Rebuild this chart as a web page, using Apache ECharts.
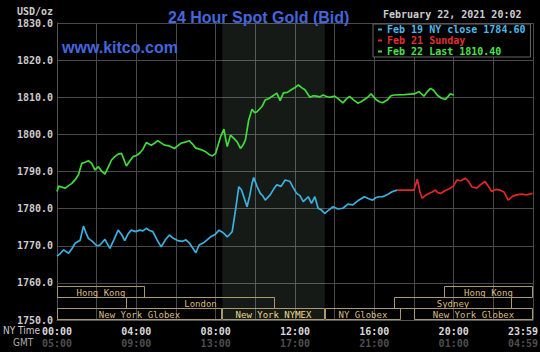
<!DOCTYPE html>
<html>
<head>
<meta charset="utf-8">
<script src="https://cdn.jsdelivr.net/npm/echarts@6/dist/echarts.min.js"></script>
<style>
  html, body { margin: 0; padding: 0; background: #000; }
  #chart { width: 540px; height: 352px; }
</style>
</head>
<body>
<div id="chart"></div>
<script>
// times are minutes after 00:00 NY time
const closeTimes = [0, 10, 20, 35, 45, 55, 70, 80, 88, 95, 108, 120, 130, 145, 160, 172, 185, 195, 205, 215, 225, 238, 250, 260, 270, 280, 290, 303, 315, 328, 340, 352, 365, 380, 390, 400, 420, 430, 445, 465, 478, 490, 503, 515, 523, 530, 540, 550, 558, 565, 575, 583, 590, 595, 605, 615, 622, 630, 645, 655, 665, 678, 690, 705, 715, 725, 735, 745, 760, 770, 780, 790, 800, 810, 822, 835, 850, 865, 880, 895, 910, 930, 945, 955, 965, 975, 985, 1000, 1015, 1030];
const closeValues = [1767.2, 1767.9, 1768.9, 1768.0, 1769.2, 1770.7, 1771.5, 1775.3, 1773.4, 1772.0, 1771.1, 1770.0, 1770.2, 1771.7, 1769.3, 1771.6, 1774.2, 1773.1, 1771.4, 1773.2, 1774.2, 1773.8, 1774.2, 1774.0, 1774.7, 1774.1, 1773.8, 1771.5, 1769.7, 1771.6, 1772.9, 1772.0, 1771.4, 1771.2, 1771.6, 1770.8, 1768.1, 1770.2, 1770.9, 1772.4, 1773.0, 1774.2, 1773.5, 1772.4, 1773.1, 1773.8, 1779.6, 1785.9, 1785.1, 1783.2, 1780.5, 1783.5, 1786.8, 1788.4, 1786.0, 1784.1, 1783.5, 1782.3, 1783.7, 1785.2, 1786.4, 1786.0, 1787.7, 1787.3, 1785.6, 1784.1, 1783.5, 1781.9, 1783.2, 1781.4, 1783.2, 1780.1, 1779.6, 1778.7, 1779.6, 1780.5, 1779.9, 1780.1, 1781.2, 1781.0, 1782.1, 1783.2, 1782.6, 1782.3, 1783.0, 1783.2, 1783.2, 1783.8, 1784.6, 1785.0];

const sundayTimes = [1030, 1080, 1090, 1098, 1105, 1115, 1125, 1135, 1145, 1152, 1160, 1175, 1190, 1200, 1210, 1222, 1235, 1245, 1255, 1270, 1282, 1295, 1305, 1315, 1328, 1340, 1352, 1365, 1378, 1390, 1405, 1420, 1430, 1439];
const sundayValues = [1785.0, 1785.0, 1787.9, 1784.5, 1782.8, 1783.6, 1784.1, 1784.5, 1785.0, 1784.3, 1784.1, 1784.9, 1785.5, 1786.2, 1787.7, 1787.5, 1788.2, 1787.3, 1785.9, 1785.5, 1786.5, 1787.3, 1786.0, 1784.6, 1785.2, 1785.0, 1784.5, 1782.3, 1783.3, 1783.7, 1783.9, 1783.7, 1783.9, 1784.1];

const lastTimes = [0, 5, 15, 25, 35, 45, 55, 65, 75, 85, 95, 105, 115, 125, 135, 145, 155, 165, 175, 185, 195, 210, 220, 230, 240, 250, 260, 270, 285, 295, 305, 315, 325, 340, 355, 365, 375, 388, 400, 410, 420, 435, 450, 460, 470, 480, 495, 505, 510, 515, 525, 535, 545, 555, 562, 570, 580, 590, 598, 605, 620, 630, 640, 650, 665, 675, 685, 697, 710, 720, 730, 740, 750, 765, 775, 785, 795, 805, 815, 825, 840, 852, 865, 875, 885, 897, 910, 920, 930, 940, 950, 965, 975, 985, 1000, 1010, 1020, 1050, 1080, 1095, 1110, 1120, 1130, 1140, 1150, 1162, 1175, 1190, 1200];
const lastValues = [1784.6, 1786.1, 1785.8, 1785.5, 1786.2, 1786.8, 1787.8, 1789.1, 1792.2, 1792.5, 1792.9, 1792.2, 1790.4, 1791.3, 1790.1, 1789.3, 1791.2, 1793.1, 1794.0, 1794.7, 1794.9, 1791.5, 1792.8, 1794.0, 1794.3, 1794.9, 1796.0, 1797.8, 1797.1, 1797.6, 1798.3, 1797.7, 1797.1, 1796.9, 1796.2, 1796.9, 1797.6, 1797.9, 1798.3, 1797.4, 1796.3, 1795.9, 1795.3, 1794.6, 1794.2, 1794.9, 1799.4, 1801.4, 1798.9, 1796.7, 1799.8, 1798.9, 1798.0, 1796.2, 1797.0, 1798.5, 1803.9, 1806.8, 1805.8, 1806.1, 1807.5, 1809.3, 1809.6, 1810.2, 1811.1, 1809.1, 1811.2, 1811.3, 1812.1, 1812.6, 1813.3, 1812.6, 1812.0, 1810.0, 1810.4, 1810.3, 1810.1, 1810.6, 1810.2, 1810.0, 1810.3, 1809.5, 1808.5, 1809.5, 1810.2, 1809.3, 1808.4, 1808.8, 1809.4, 1810.0, 1810.9, 1809.4, 1808.8, 1808.5, 1809.3, 1810.4, 1810.6, 1810.7, 1810.9, 1811.5, 1810.3, 1811.5, 1812.4, 1811.8, 1810.6, 1809.8, 1809.4, 1810.9, 1810.6];

const seriesNames = ['Feb 19 NY close 1784.60', 'Feb 21 Sunday', 'Feb 22 Last 1810.40'];

// trading sessions: row, start, end (minutes), name
const sessionRows = [0, 0, 1, 1, 2, 2, 2, 2];
const sessionStarts = [0, 1170, 210, 1020, 0, 500, 810, 1080];
const sessionEnds = [265, 1440, 660, 1375, 500, 810, 1040, 1440];
const sessionNames = ['Hong Kong', 'Hong Kong', 'London', 'Sydney', 'New York Globex', 'New York NYMEX', 'NY Globex', 'New York Globex'];

const yTicks = [1750, 1830, 10];
const nyLabels = ['00:00', '04:00', '08:00', '12:00', '16:00', '20:00', '23:59'];
const gmtLabels = ['05:00', '09:00', '13:00', '17:00', '21:00', '01:00', '04:59'];

const zip = (a, b) => a.map((t, i) => [t, b[i]]);
const mono = '"DejaVu Sans Mono", "Liberation Mono", monospace';
const nymex = sessionNames.indexOf('New York NYMEX');

const chart = echarts.init(document.getElementById('chart'), null, { renderer: 'svg' });

const option = {
  animation: false,
  backgroundColor: '#000',
  title: [
    {
      text: '24 Hour Spot Gold (Bid)', left: 163, top: 4,
      textStyle: { color: '#4466dd', fontSize: 16, fontWeight: 'bold', fontFamily: '"Liberation Sans", Arial, sans-serif' }
    },
    {
      text: 'www.kitco.com', left: 57, top: 34,
      textStyle: { color: '#4466dd', fontSize: 16, fontWeight: 'bold', fontFamily: '"Liberation Sans", Arial, sans-serif' }
    },
    {
      text: 'February 22, 2021 20:02', left: 383, top: 8, padding: 0,
      textStyle: { color: '#cccccc', fontSize: 10, fontWeight: 'bold', fontFamily: mono, lineHeight: 12 }
    }
  ],
  legend: {
    left: 373, top: 24,
    orient: 'vertical',
    selectedMode: false,
    icon: 'rect', itemWidth: 4, itemHeight: 2, itemGap: 0,
    padding: [0, 5, 0, 5],
    borderColor: '#666', borderWidth: 1, backgroundColor: '#000',
    textStyle: { fontFamily: mono, fontSize: 10, fontWeight: 'bold', lineHeight: 11 },
    data: [
      { name: seriesNames[0], textStyle: { color: '#4cb8e8' } },
      { name: seriesNames[1], textStyle: { color: '#e03030' } },
      { name: seriesNames[2], textStyle: { color: '#4ce04c' } }
    ]
  },
  grid: { left: 57, right: 7, top: 23, bottom: 32, outerBoundsMode: 'none', containLabel: false },
  xAxis: {
    type: 'value', min: 0, max: 1440, interval: 120,
    axisLine: { show: true, lineStyle: { color: '#555' } },
    axisTick: { show: false },
    splitLine: { show: true, lineStyle: { color: '#4a4a4a' } },
    axisLabel: {
      margin: 5,
      formatter: v => {
        if (v % 240 !== 0) return '';
        const i = v / 240;
        if (v === 1440) return '{nyEnd|' + nyLabels[i] + '}\n{gmtEnd|' + gmtLabels[i] + '}';
        return '{ny|' + nyLabels[i] + '}\n{gmt|' + gmtLabels[i] + '}';
      },
      rich: {
        ny: { color: '#d8d8d8', fontFamily: mono, fontSize: 10, fontWeight: 'bold', lineHeight: 12 },
        gmt: { color: '#4e4e4e', fontFamily: mono, fontSize: 10, fontWeight: 'bold', lineHeight: 12 },
        nyEnd: { color: '#d8d8d8', fontFamily: mono, fontSize: 10, fontWeight: 'bold', lineHeight: 12, padding: [0, 20, 0, 0] },
        gmtEnd: { color: '#4e4e4e', fontFamily: mono, fontSize: 10, fontWeight: 'bold', lineHeight: 12, padding: [0, 20, 0, 0] }
      }
    }
  },
  yAxis: {
    type: 'value', min: yTicks[0], max: yTicks[1], interval: yTicks[2],
    name: 'USD/oz', nameLocation: 'end', nameGap: 7,
    nameTextStyle: { color: '#cccccc', fontFamily: mono, fontSize: 10, fontWeight: 'bold', align: 'right', verticalAlign: 'bottom', padding: [0, 4, 0, 0] },
    axisLine: { show: true, lineStyle: { color: '#555' } },
    axisTick: { show: false },
    splitLine: { show: true, lineStyle: { color: '#4a4a4a' } },
    axisLabel: {
      margin: 4, color: '#cccccc', fontFamily: mono, fontSize: 10, fontWeight: 'bold',
      formatter: v => v.toFixed(1)
    }
  },
  graphic: [
    { type: 'text', left: 3, top: 325, style: { text: 'NY Time', fill: '#cccccc', font: '10px "DejaVu Sans Condensed", "Liberation Sans Narrow", sans-serif' } },
    { type: 'text', left: 13, top: 337, style: { text: 'GMT', fill: '#aaaaaa', font: '10px "DejaVu Sans Condensed", "Liberation Sans Narrow", sans-serif' } }
  ],
  series: [
    {
      type: 'custom', name: 'sessions', clip: false, silent: true,
      data: sessionRows.map((r, i) => [r, sessionStarts[i], sessionEnds[i]]),
      encode: { x: [1, 2], y: 0 },
      renderItem: (params, api) => {
        const row = api.value(0);
        const a = api.coord([api.value(1), yTicks[0] + 10]);
        const b = api.coord([api.value(2), yTicks[0] + 10]);
        const x0 = Math.round(a[0]) + 0.5, x1 = Math.round(b[0]) - 0.5;
        const top = Math.round(a[1]) + 3.5 + row * 11;
        return {
          type: 'group',
          children: [
            { type: 'rect', shape: { x: x0, y: top, width: x1 - x0, height: 11 }, style: { fill: 'none', stroke: '#a8996f', lineWidth: 1 } },
            { type: 'text', style: { text: sessionNames[params.dataIndex], x: (x0 + x1) / 2, y: top + 6, align: 'center', verticalAlign: 'middle', fill: params.dataIndex === nymex ? '#ecd98f' : '#d9bd85', font: '9px ' + mono } }
          ]
        };
      }
    },
    {
      name: seriesNames[0], type: 'line', showSymbol: false,
      data: zip(closeTimes, closeValues),
      itemStyle: { color: '#3cb0e0' },
      lineStyle: { color: '#3cb0e0', width: 1.7 }
    },
    {
      name: seriesNames[1], type: 'line', showSymbol: false,
      data: zip(sundayTimes, sundayValues),
      itemStyle: { color: '#e02828' },
      lineStyle: { color: '#e02828', width: 1.7 }
    },
    {
      name: seriesNames[2], type: 'line', showSymbol: false,
      data: zip(lastTimes, lastValues),
      itemStyle: { color: '#40dc3a' },
      lineStyle: { color: '#40dc3a', width: 1.7 },
      markArea: {
        silent: true,
        itemStyle: { color: 'rgba(215,255,215,0.1)' },
        data: [[{ xAxis: sessionStarts[nymex] }, { xAxis: sessionEnds[nymex] }]]
      }
    }
  ]
};

chart.setOption(option);
</script>
</body>
</html>
